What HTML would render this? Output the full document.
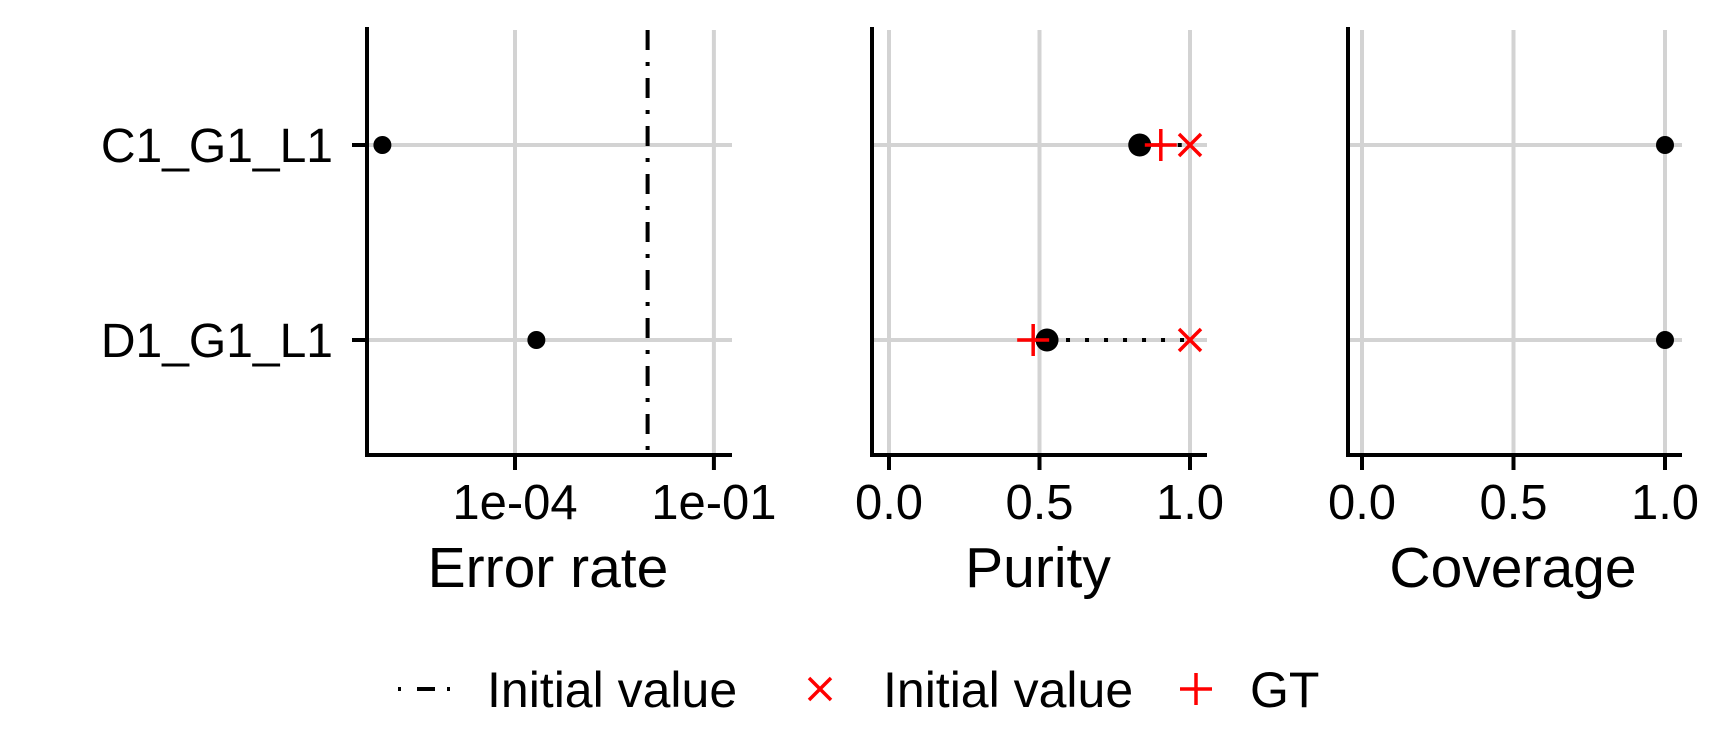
<!DOCTYPE html>
<html><head><meta charset="utf-8">
<style>html,body{margin:0;padding:0;background:#fff}svg{display:block}text{font-family:"Liberation Sans",sans-serif}</style>
</head><body>
<svg id="chart" width="1710" height="750" viewBox="0 0 1710 750" xmlns="http://www.w3.org/2000/svg"></svg>
<script>
const categories = ["C1_G1_L1", "D1_G1_L1"];
const errorRate = [1e-6, 2.1e-4];
const errorInitial = [0.01];
const errorTicks = [1e-4, 1e-1];
const errorTickLabels = ["1e-04", "1e-01"];
const purity = [0.833, 0.525];
const purityInitial = [1.0, 1.0];
const purityGT = [0.903, 0.479];
const coverage = [1.0, 1.0];
const linTicks = [0, 0.5, 1.0];
const linTickLabels = ["0.0", "0.5", "1.0"];

const svg = document.getElementById('chart');
const NS = 'http://www.w3.org/2000/svg';
function mk(tag, attrs, parent) {
  const e = document.createElementNS(NS, tag);
  for (const k in attrs) e.setAttribute(k, attrs[k]);
  (parent || svg).appendChild(e);
  return e;
}
const yPos = i => [145, 340][i];
const TOP = 27, BOT = 455;
const xErr = v => 515 + (Math.log10(v) + 4) * 66.3;
const xPur = v => 889 + v * 301;
const xCov = v => 1362 + v * 303;

function panel(name, axisX, rightX, xf, ticks, labels, title, titleX) {
  const g = mk('g', {});
  
  
  ticks.forEach(t => {
    const l = mk('line', {x1: xf(t), x2: xf(t), y1: TOP + 3, y2: BOT, stroke: '#d3d3d3', 'stroke-width': 4}, g);
    
    
  });
  categories.forEach((c, i) => {
    const l = mk('line', {x1: axisX, x2: rightX, y1: yPos(i), y2: yPos(i), stroke: '#d3d3d3', 'stroke-width': 4}, g);
    
    
  });
  const ya = mk('line', {x1: axisX, x2: axisX, y1: TOP, y2: BOT + 2, stroke: '#000', 'stroke-width': 4}, g);
  
  
  const xa = mk('line', {x1: axisX - 2, x2: rightX, y1: BOT, y2: BOT, stroke: '#000', 'stroke-width': 4}, g);
  
  
  ticks.forEach((t, i) => {
    const tk = mk('line', {x1: xf(t), x2: xf(t), y1: BOT, y2: BOT + 15, stroke: '#000', 'stroke-width': 4}, g);
    
    
    const tl = mk('text', {x: xf(t), y: 519, 'text-anchor': 'middle', 'font-size': 49, fill: '#000'}, g);
    tl.textContent = labels[i];
    
    
  });
  const tt = mk('text', {x: titleX, y: 587, 'text-anchor': 'middle', 'font-size': 57, fill: '#000'}, g);
  tt.textContent = title;
  
  
  return g;
}

// y labels
categories.forEach((c, i) => {
  const tk = mk('line', {x1: 352, x2: 367, y1: yPos(i), y2: yPos(i), stroke: '#000', 'stroke-width': 4});
  
  
  const t = mk('text', {x: 333, y: yPos(i) + 17, 'text-anchor': 'end', 'font-size': 48, fill: '#000'});
  t.textContent = c;
  
  
});

// Panel 1
const g1 = panel('error-rate', 367, 732, xErr, errorTicks, errorTickLabels, 'Error rate', 548);
errorInitial.forEach(v => {
  const l = mk('line', {x1: xErr(v), x2: xErr(v), y1: TOP + 3, y2: BOT, stroke: '#000', 'stroke-width': 4, 'stroke-dasharray': '20 12 4 12'}, g1);
  
  
});
errorRate.forEach((v, i) => {
  const c = mk('circle', {cx: xErr(v), cy: yPos(i), r: 9, fill: '#000'}, g1);
  
  
});

// Panel 2
const g2 = panel('purity', 872, 1207, xPur, linTicks, linTickLabels, 'Purity', 1038);
purity.forEach((v, i) => {
  const y = yPos(i);
  const d = mk('line', {x1: xPur(v), x2: xPur(purityInitial[i]), y1: y, y2: y, stroke: '#000', 'stroke-width': 4, 'stroke-dasharray': '4 15'}, g2);
  
  
  const r = mk('line', {x1: xPur(v), x2: xPur(purityGT[i]), y1: y, y2: y, stroke: '#ff0000', 'stroke-width': 3.5}, g2);
  
  
  const c = mk('circle', {cx: xPur(v), cy: y, r: 11.5, fill: '#000'}, g2);
  
  
  const gx = xPur(purityGT[i]);
  const p = mk('path', {d: `M${gx-16},${y}H${gx+16}M${gx},${y-16}V${y+16}`, stroke: '#ff0000', 'stroke-width': 3.5, fill: 'none'}, g2);
  
  
  const ix = xPur(purityInitial[i]);
  const x = mk('path', {d: `M${ix-11},${y-11}L${ix+11},${y+11}M${ix-11},${y+11}L${ix+11},${y-11}`, stroke: '#ff0000', 'stroke-width': 3.5, fill: 'none'}, g2);
  
  
});

// Panel 3
const g3 = panel('coverage', 1348, 1682, xCov, linTicks, linTickLabels, 'Coverage', 1513);
coverage.forEach((v, i) => {
  const c = mk('circle', {cx: xCov(v), cy: yPos(i), r: 9, fill: '#000'}, g3);
  
  
});

// Legend
const lg = mk('g', {});


const ly = 689;
const k1 = mk('line', {x1: 398, x2: 450, y1: ly, y2: ly, stroke: '#000', 'stroke-width': 4, 'stroke-dasharray': '3 16 18 12 3 20'}, lg);


const t1 = mk('text', {x: 487, y: 707, 'font-size': 50, fill: '#000'}, lg);
t1.textContent = 'Initial value';


const k2 = mk('path', {d: `M809,${ly-11}L831,${ly+11}M809,${ly+11}L831,${ly-11}`, stroke: '#ff0000', 'stroke-width': 3.5, fill: 'none'}, lg);


const t2 = mk('text', {x: 883, y: 707, 'font-size': 50, fill: '#000'}, lg);
t2.textContent = 'Initial value';


const k3 = mk('path', {d: `M1180,${ly}H1212M1196,${ly-16}V${ly+16}`, stroke: '#ff0000', 'stroke-width': 3.5, fill: 'none'}, lg);


const t3 = mk('text', {x: 1250, y: 707, 'font-size': 50, fill: '#000'}, lg);
t3.textContent = 'GT';


</script>
</body></html>
